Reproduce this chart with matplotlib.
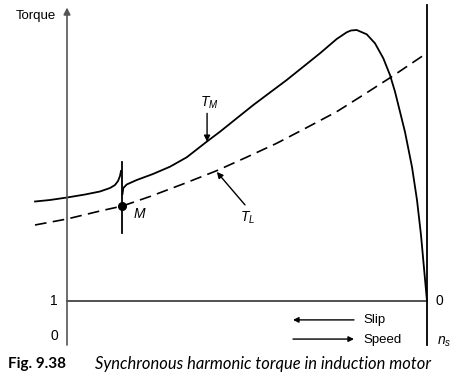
import numpy as np
import matplotlib
matplotlib.use("Agg")
import matplotlib.pyplot as plt

# speed (0 at standstill, 1 = synchronous) and torque (per unit of the peak)
# motor torque T_M, before the synchronous cusp at M
tm_left_s = [-0.0886, -0.0471, 0.0, 0.0499, 0.0914, 0.1191, 0.1330, 0.1413, 0.1468, 0.1496]
tm_left_t = [0.3685, 0.3741, 0.3833, 0.3944, 0.4056, 0.4185, 0.4296, 0.4444, 0.4630, 0.4815]

# motor torque T_M, after the cusp
tm_right_s = [0.1537, 0.1560, 0.1654, 0.1745, 0.1931, 0.2382, 0.2853, 0.3316, 0.3870,
              0.4238, 0.4701, 0.5161, 0.5623, 0.6086, 0.6546, 0.7008, 0.7471, 0.7748,
              0.7867, 0.8025, 0.8302, 0.8532, 0.8762, 0.8947, 0.9086, 0.9224, 0.9363,
              0.9557, 0.9695, 0.9806, 0.9889, 0.9972]
tm_right_t = [0.3963, 0.4185, 0.4315, 0.4370, 0.4481, 0.4704, 0.4974, 0.5322, 0.5900,
              0.6270, 0.6767, 0.7259, 0.7722, 0.8185, 0.8678, 0.9174, 0.9704, 0.9952,
              1.0019, 1.0037, 0.9878, 0.9544, 0.8989, 0.8370, 0.7752, 0.7011, 0.6259,
              0.4963, 0.3741, 0.2444, 0.1222, 0.0]

# load torque T_L
tl_s = [-0.0886, 0.0, 0.0914, 0.1537, 0.2299, 0.3213, 0.4147, 0.4958, 0.5809, 0.6620,
        0.7471, 0.8227, 0.8995, 0.9917, 0.9972]
tl_t = [0.2815, 0.3037, 0.3333, 0.3519, 0.3870, 0.4333, 0.4826, 0.5315, 0.5841, 0.6407,
        0.7011, 0.7648, 0.8307, 0.9137, 0.9185]

# operating point M and its synchronous torque band
m_s, m_t = 0.1537, 0.3519
m_band = [0.2519, 0.5148]

plt.rcParams['font.family'] = ['Liberation Sans', 'DejaVu Sans']
plt.rcParams['mathtext.fontset'] = 'custom'
plt.rcParams['mathtext.it'] = 'Liberation Sans:italic'
plt.rcParams['mathtext.rm'] = 'Liberation Sans'

fig = plt.figure(figsize=(4.54, 3.76), dpi=100)
ax = fig.add_axes([0, 0, 1, 1])
ax.set_xlim(-67 / 361, (454 - 67) / 361)
ax.set_ylim((301 - 376) / 270, 301 / 270)
ax.axis('off')

# axes of the sketch
ax.annotate('', xy=(0, 1.087), xytext=(0, -0.163),
            arrowprops=dict(arrowstyle='-|>', color='#555555', lw=1.2,
                            mutation_scale=10, shrinkA=0, shrinkB=0))
ax.plot([0.9985, 0.9985], [-0.163, 1.096], color='black', lw=1.3)
ax.plot([0, 0.9985], [0, 0], color='#333333', lw=1.2)

# torque curves
ax.plot(tm_left_s, tm_left_t, color='black', lw=1.3, solid_joinstyle='round')
ax.plot(tm_right_s, tm_right_t, color='black', lw=1.3, solid_joinstyle='round')
ax.plot(tl_s, tl_t, color='black', lw=1.2, dashes=(7, 3.8))
ax.plot([0.1515, 0.1515], m_band, color='black', lw=1.3)
ax.plot(m_s, m_t, 'o', color='black', ms=5.5)

# labels
ax.text(-0.086, 1.055, 'Torque', fontsize=9.5, ha='center', va='center')
ax.text(-0.025, 0.0, '1', fontsize=10, ha='right', va='center')
ax.text(-0.025, -0.13, '0', fontsize=10, ha='right', va='center')
ax.text(1.02, 0.0, '0', fontsize=10, ha='left', va='center')
ax.text(1.025, -0.15, '$n_s$', fontsize=10, ha='left', va='center')
ax.text(0.183, 0.322, '$M$', fontsize=10, ha='left', va='center')

ax.text(0.395, 0.733, '$T_M$', fontsize=10, ha='center', va='center')
ax.annotate('', xy=(0.388, 0.590), xytext=(0.388, 0.695),
            arrowprops=dict(arrowstyle='-|>', color='black', lw=1.0,
                            mutation_scale=9, shrinkA=0, shrinkB=0))
ax.text(0.50, 0.31, '$T_L$', fontsize=10, ha='center', va='center')
ax.annotate('', xy=(0.415, 0.478), xytext=(0.493, 0.356),
            arrowprops=dict(arrowstyle='-|>', color='black', lw=1.0,
                            mutation_scale=9, shrinkA=0, shrinkB=0))

ax.annotate('', xy=(0.626, -0.07), xytext=(0.795, -0.07),
            arrowprops=dict(arrowstyle='-|>', color='black', lw=1.0,
                            mutation_scale=8, shrinkA=0, shrinkB=0))
ax.text(0.82, -0.07, 'Slip', fontsize=9.5, ha='left', va='center')
ax.annotate('', xy=(0.795, -0.141), xytext=(0.626, -0.141),
            arrowprops=dict(arrowstyle='-|>', color='black', lw=1.0,
                            mutation_scale=8, shrinkA=0, shrinkB=0))
ax.text(0.82, -0.145, 'Speed', fontsize=9.5, ha='left', va='center')

# caption
fig.text(0.018, 0.033, 'Fig. 9.38', fontsize=11, fontweight='bold',
         family='Lato', ha='left', va='center')
fig.text(0.209, 0.033, 'Synchronous harmonic torque in induction motor',
         fontsize=11.9, style='italic', family='Lato', ha='left', va='center')

fig.savefig('out.png', dpi=100)
